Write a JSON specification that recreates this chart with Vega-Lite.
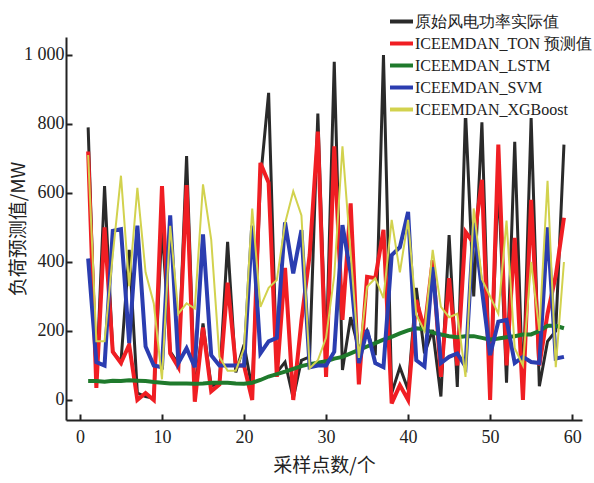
{
  "$schema": "https://vega.github.io/schema/vega-lite/v6.json",
  "width": 516,
  "height": 383,
  "autosize": {"type": "none"},
  "padding": {"left": 66, "top": 37, "right": 12, "bottom": 63},
  "background": "white",
  "config": {
    "view": {"stroke": null},
    "font": "Liberation Serif",
    "axis": {"grid": false, "domainColor": "#222", "domainWidth": 2, "tickColor": "#222", "tickWidth": 2, "tickSize": -6, "labelFont": "Liberation Serif", "labelFontSize": 18, "labelColor": "#222", "titleFont": "Noto Sans CJK SC", "titleFontSize": 19, "titleFontWeight": "normal", "titleColor": "#222"}
  },
  "data": {
    "values": [
      {"i":1,"a":790,"b":720,"c":55,"d":410,"e":710},
      {"i":2,"a":50,"b":35,"c":55,"d":110,"e":170},
      {"i":3,"a":620,"b":500,"c":53,"d":100,"e":170},
      {"i":4,"a":140,"b":140,"c":56,"d":490,"e":420},
      {"i":5,"a":110,"b":107,"c":55,"d":495,"e":650},
      {"i":6,"a":435,"b":160,"c":57,"d":165,"e":330},
      {"i":7,"a":20,"b":0,"c":56,"d":505,"e":615},
      {"i":8,"a":10,"b":20,"c":55,"d":155,"e":370},
      {"i":9,"a":5,"b":0,"c":52,"d":100,"e":280},
      {"i":10,"a":505,"b":620,"c":50,"d":95,"e":60},
      {"i":11,"a":140,"b":135,"c":48,"d":535,"e":505},
      {"i":12,"a":105,"b":95,"c":48,"d":107,"e":250},
      {"i":13,"a":707,"b":623,"c":48,"d":150,"e":280},
      {"i":14,"a":20,"b":-5,"c":47,"d":95,"e":265},
      {"i":15,"a":222,"b":210,"c":48,"d":480,"e":625},
      {"i":16,"a":40,"b":25,"c":50,"d":130,"e":465},
      {"i":17,"a":50,"b":45,"c":50,"d":100,"e":125},
      {"i":18,"a":458,"b":340,"c":50,"d":100,"e":85},
      {"i":19,"a":80,"b":100,"c":48,"d":100,"e":85},
      {"i":20,"a":160,"b":100,"c":47,"d":100,"e":150},
      {"i":21,"a":30,"b":0,"c":50,"d":505,"e":555},
      {"i":22,"a":637,"b":687,"c":58,"d":135,"e":270},
      {"i":23,"a":890,"b":630,"c":68,"d":170,"e":325},
      {"i":24,"a":80,"b":67,"c":75,"d":180,"e":348},
      {"i":25,"a":110,"b":383,"c":82,"d":515,"e":512},
      {"i":26,"a":5,"b":0,"c":90,"d":367,"e":605},
      {"i":27,"a":115,"b":230,"c":98,"d":492,"e":535},
      {"i":28,"a":125,"b":420,"c":104,"d":95,"e":92},
      {"i":29,"a":830,"b":778,"c":108,"d":100,"e":115},
      {"i":30,"a":120,"b":67,"c":112,"d":100,"e":180},
      {"i":31,"a":980,"b":735,"c":120,"d":140,"e":360},
      {"i":32,"a":87,"b":232,"c":125,"d":507,"e":735},
      {"i":33,"a":240,"b":570,"c":135,"d":367,"e":425},
      {"i":34,"a":145,"b":45,"c":145,"d":107,"e":122},
      {"i":35,"a":200,"b":357,"c":155,"d":203,"e":328},
      {"i":36,"a":130,"b":353,"c":165,"d":107,"e":353},
      {"i":37,"a":1000,"b":493,"c":175,"d":95,"e":295},
      {"i":38,"a":20,"b":-10,"c":183,"d":420,"e":522},
      {"i":39,"a":95,"b":43,"c":193,"d":443,"e":370},
      {"i":40,"a":30,"b":0,"c":202,"d":545,"e":522},
      {"i":41,"a":325,"b":290,"c":208,"d":115,"e":247},
      {"i":42,"a":135,"b":203,"c":205,"d":97,"e":200},
      {"i":43,"a":203,"b":405,"c":195,"d":385,"e":435},
      {"i":44,"a":10,"b":67,"c":190,"d":107,"e":270},
      {"i":45,"a":478,"b":353,"c":185,"d":125,"e":240},
      {"i":46,"a":38,"b":100,"c":182,"d":135,"e":250},
      {"i":47,"a":835,"b":487,"c":185,"d":97,"e":67},
      {"i":48,"a":300,"b":455,"c":185,"d":513,"e":555},
      {"i":49,"a":805,"b":638,"c":180,"d":320,"e":350},
      {"i":50,"a":20,"b":0,"c":175,"d":130,"e":300},
      {"i":51,"a":640,"b":740,"c":178,"d":227,"e":250},
      {"i":52,"a":50,"b":100,"c":182,"d":232,"e":520},
      {"i":53,"a":748,"b":470,"c":185,"d":107,"e":150},
      {"i":54,"a":20,"b":0,"c":190,"d":125,"e":100},
      {"i":55,"a":817,"b":580,"c":190,"d":110,"e":400},
      {"i":56,"a":40,"b":100,"c":200,"d":107,"e":200},
      {"i":57,"a":170,"b":250,"c":215,"d":500,"e":635},
      {"i":58,"a":200,"b":360,"c":215,"d":120,"e":95},
      {"i":59,"a":740,"b":528,"c":208,"d":125,"e":400}
    ]
  },
  "transform": [{"fold": ["a", "b", "c", "d", "e"], "as": ["series", "value"]}],
  "encoding": {
    "x": {"field": "i", "type": "quantitative", "scale": {"domain": [-1.7, 61.2], "nice": false, "zero": false},
      "axis": {"values": [0, 10, 20, 30, 40, 50, 60], "title": "采样点数/个", "labelPadding": 14, "titlePadding": 10}},
    "y": {"field": "value", "type": "quantitative", "scale": {"domain": [-58, 1052], "nice": false, "zero": false},
      "axis": {"values": [0, 200, 400, 600, 800, 1000], "title": "负荷预测值/MW", "labelExpr": "datum.value == 1000 ? '1 000' : datum.label", "labelPadding": 8, "titleX": -38, "titleBaseline": "bottom"}},
    "color": {"field": "series", "type": "nominal",
      "scale": {"domain": ["a", "b", "c", "d", "e"], "range": ["#2a2a2a", "#f01e23", "#1f7a2c", "#2b3db0", "#d2d24e"]},
      "legend": {"orient": "none", "legendX": 322, "legendY": -29, "title": null, "fillColor": "white", "padding": 0,
        "symbolType": "stroke", "symbolSize": 529, "symbolStrokeWidth": 4, "labelFont": "Liberation Serif", "labelFontSize": 16, "labelColor": "#222", "labelOffset": 0, "labelLimit": 400, "rowPadding": -10,
        "labelExpr": "datum.value == 'a' ? '原始风电功率实际值' : datum.value == 'b' ? 'ICEEMDAN_TON 预测值' : datum.value == 'c' ? 'ICEEMDAN_LSTM' : datum.value == 'd' ? 'ICEEMDAN_SVM' : 'ICEEMDAN_XGBoost'"}}
  },
  "layer": [
    {"transform": [{"filter": "datum.series == 'a'"}], "mark": {"type": "line", "strokeWidth": 3}},
    {"transform": [{"filter": "datum.series == 'b'"}], "mark": {"type": "line", "strokeWidth": 4}},
    {"transform": [{"filter": "datum.series == 'c'"}], "mark": {"type": "line", "strokeWidth": 4}},
    {"transform": [{"filter": "datum.series == 'd'"}], "mark": {"type": "line", "strokeWidth": 4}},
    {"transform": [{"filter": "datum.series == 'e'"}], "mark": {"type": "line", "strokeWidth": 2}}
  ]
}
